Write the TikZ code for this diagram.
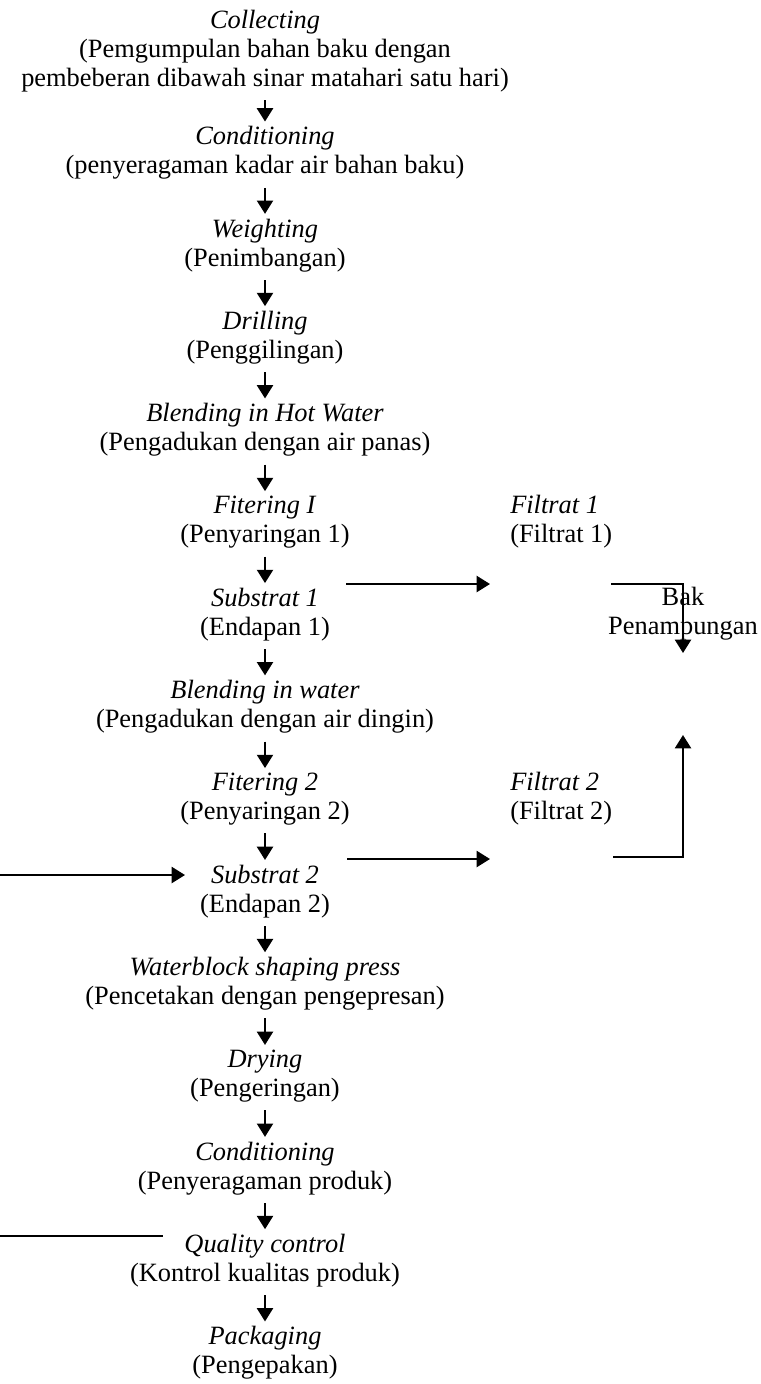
\documentclass[tikz,border=0pt]{standalone}
\usepackage{fontspec}
\setmainfont{Liberation Serif}
\usepackage{tikz}
\usetikzlibrary{arrows.meta,positioning}

\tikzset{
  stepnode/.style={align=center, inner xsep=0pt, inner ysep=0pt},
  sidenode/.style={align=left, anchor=west, inner xsep=0pt, inner ysep=0pt},
  flow/.style={line width=1.7pt, -{Triangle[width=12pt,length=10pt]}},
  plain/.style={line width=1.7pt}
}

\begin{document}
\begin{tikzpicture}[x=0.75pt, y=-0.75pt, font=\fontsize{19.8}{21.75}\selectfont]
  \useasboundingbox (0,0) rectangle (760,1384);

  % main column
  \node[stepnode] (s0) at (265,51) {\textit{Collecting}\\(Pemgumpulan bahan baku dengan\\pembeberan dibawah sinar matahari satu hari)};
  \foreach \t/\d [count=\i from 1] in {
      Conditioning/(penyeragaman kadar air bahan baku),
      Weighting/(Penimbangan),
      Drilling/(Penggilingan),
      Blending in Hot Water/(Pengadukan dengan air panas),
      Fitering I/(Penyaringan 1),
      Substrat 1/(Endapan 1),
      Blending in water/(Pengadukan dengan air dingin),
      Fitering 2/(Penyaringan 2),
      Substrat 2/(Endapan 2),
      Waterblock shaping press/(Pencetakan dengan pengepresan),
      Drying/(Pengeringan),
      Conditioning/(Penyeragaman produk),
      Quality control/(Kontrol kualitas produk),
      Packaging/(Pengepakan)} {
    \node[stepnode] (s\i) at (265,{137+(\i-1)*92.3+16}) {\textit{\t}\\\d};
  }
  \foreach \i [evaluate=\i as \j using int(\i-1)] in {1,...,14}
    \draw[flow, shorten <=6pt, shorten >=3.5pt] (s\j.south) -- (s\i.north);

  % filtrate side
  \node[sidenode] (f1) at (510,522) {\textit{Filtrat 1}\\(Filtrat 1)};
  \node[sidenode] (f2) at (510,799) {\textit{Filtrat 2}\\(Filtrat 2)};
  \node[stepnode] (bak) at (683,614) {Bak\\Penampungan};

  \coordinate (r1a) at (346,584);
  \coordinate (r1b) at (490,584);
  \coordinate (r2a) at (347,859);
  \coordinate (r2b) at (490,859);
  \coordinate (t1a) at (611,584);
  \coordinate (t1b) at (683,653);
  \coordinate (t2a) at (613,857);
  \coordinate (t2b) at (683,735);
  \coordinate (in2) at (0,875);
  \coordinate (in2b) at (185,875);
  \coordinate (qc0) at (0,1236);
  \coordinate (qc1) at (163,1236);

  \draw[flow] (r1a) -- (r1b);
  \draw[flow] (r2a) -- (r2b);
  \draw[flow] (t1a) -| (t1b);
  \draw[flow] (t2a) -| (t2b);
  \draw[flow] (in2) -- (in2b);
  \draw[plain] (qc0) -- (qc1);
\end{tikzpicture}
\end{document}
